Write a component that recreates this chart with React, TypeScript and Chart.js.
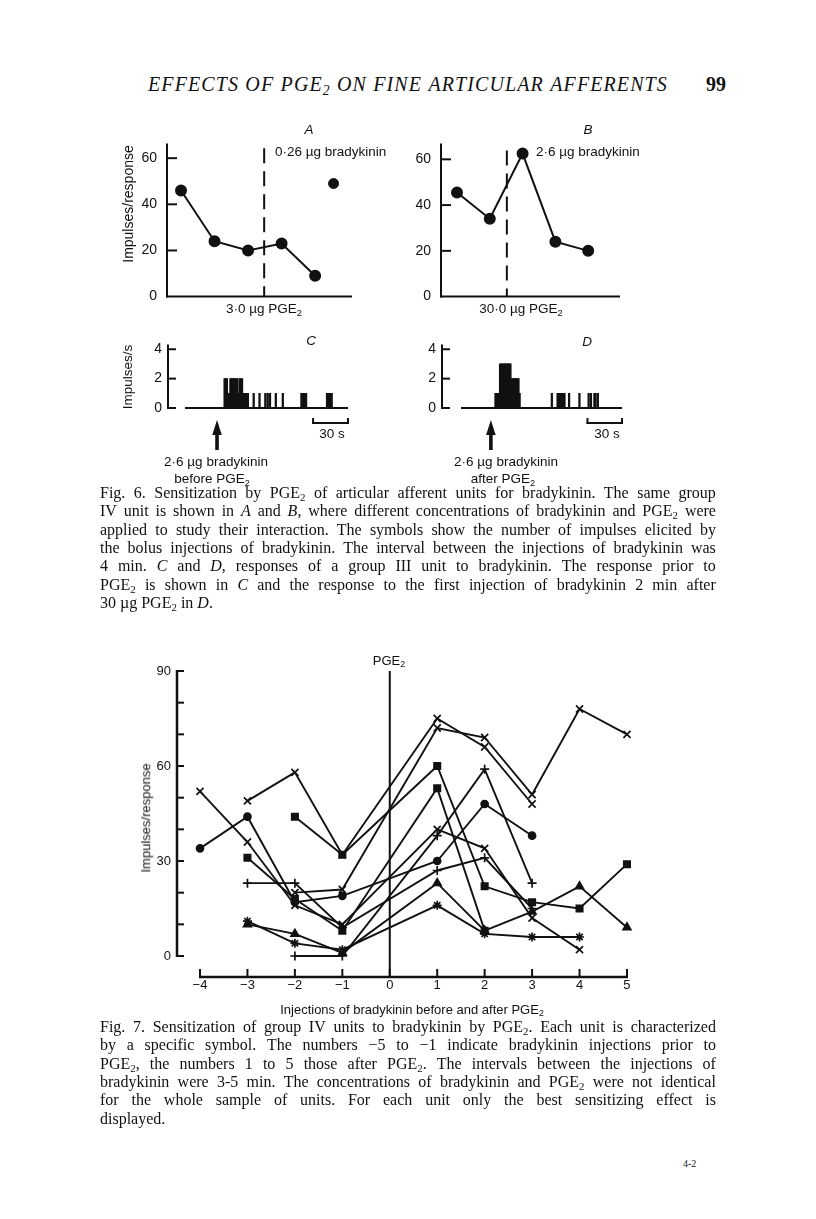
import React, { useEffect, useRef } from "react";
import { Chart, registerables } from "chart.js";

Chart.register(...registerables);

const INK = "#111111";
const SANS = "'Liberation Sans', Arial, Helvetica, sans-serif";
const SERIF = "'Liberation Serif', 'Times New Roman', serif";

// ---------- Fig. 6 A ----------
const panelAInjection = [1, 2, 3, 4, 5];
const panelAImpulses = [46, 24, 20, 23, 9];
const panelALateInjection = [5.55];
const panelALateImpulses = [49];
const panelAPgeAt = 3.48;

// ---------- Fig. 6 B ----------
const panelBInjection = [1, 2, 3, 4, 5];
const panelBImpulses = [45.5, 34, 62.5, 24, 20];
const panelBPgeAt = 2.52;

const panelYTicks = [0, 20, 40, 60];
const panelInnerTicks = [20, 40, 60];

// ---------- Fig. 6 C (1 s bins, impulses/s) ----------
const panelCSeconds = [34, 35, 36, 37, 38, 39, 40, 41, 42, 43, 44, 45, 46, 47, 48, 49, 50, 51, 52, 53, 54, 59, 64, 69, 71, 73, 78, 84, 100, 101, 102, 103, 104, 122, 123, 124, 125, 126];
const panelCRate = [2, 2, 2, 1, 1, 2, 2, 2, 2, 2, 2, 2, 1, 2, 2, 2, 1, 1, 1, 1, 1, 1, 1, 1, 1, 1, 1, 1, 1, 1, 1, 1, 1, 1, 1, 1, 1, 1];
const panelCArrowAt = 27.5;

// ---------- Fig. 6 D ----------
const panelDSeconds = [30, 31, 32, 33, 34, 35, 36, 37, 38, 39, 40, 41, 42, 43, 44, 45, 46, 47, 48, 49, 50, 51, 79, 84, 85, 86, 87, 88, 89, 90, 94, 103, 111, 113, 116, 117, 119];
const panelDRate = [1, 1, 1, 1, 3, 3, 3, 3, 3, 3, 3, 3, 3, 3, 2, 2, 2, 2, 2, 2, 2, 1, 1, 1, 1, 1, 1, 1, 1, 1, 1, 1, 1, 1, 1, 1, 1];
const panelDArrowAt = 26;

const rateTicks = [0, 2, 4];
const scaleBarFrom = 110;
const scaleBarTo = 140;
const traceEnd = 140;

// ---------- Fig. 7 ----------
const injections = [-4, -3, -2, -1, 1, 2, 3, 4, 5];
const unitCircle = [34, 44, 17, 19, 30, 48, 38, null, null];
const unitCrossA = [52, 36, 16, 10, 40, 34, 12, 2, null];
const unitCrossB = [null, 49, 58, 32, 75, 66, 48, null, null];
const unitSquareA = [null, null, 44, 32, 60, 22, 17, 15, 29];
const unitSquareB = [null, 31, 18, 8, 53, 8, null, null, null];
const unitPlusA = [null, 23, 23, 9, 27, 31, 15, null, null];
const unitCrossC = [null, null, 20, 21, 72, 69, 51, 78, 70];
const unitStar = [null, 11, 4, 2, 16, 7, 6, 6, null];
const unitTriangle = [null, 10, 7, 1, 23, 8, 14, 22, 9];
const unitPlusB = [null, null, 0, 0, 38, 59, 23, null, null];
const fig7YLabels = [0, 30, 60, 90];
const fig7XLabels = [-4, -3, -2, -1, 0, 1, 2, 3, 4, 5];

const fig7Units: { values: (number | null)[]; style: string; r: number }[] = [
  { values: unitCircle, style: "circle", r: 3.5 },
  { values: unitCrossA, style: "crossRot", r: 5 },
  { values: unitCrossB, style: "crossRot", r: 5 },
  { values: unitSquareA, style: "rect", r: 4.5 },
  { values: unitSquareB, style: "rect", r: 4.5 },
  { values: unitPlusA, style: "cross", r: 4.5 },
  { values: unitCrossC, style: "crossRot", r: 5 },
  { values: unitStar, style: "star", r: 4.5 },
  { values: unitTriangle, style: "triangle", r: 4.5 },
  { values: unitPlusB, style: "cross", r: 4.5 },
];

// ---------- text ----------
const fig6Caption = [
  "Fig. 6. Sensitization by PGE_2 of articular afferent units for bradykinin. The same group",
  "IV unit is shown in *A* and *B*, where different concentrations of bradykinin and PGE_2 were",
  "applied to study their interaction. The symbols show the number of impulses elicited by",
  "the bolus injections of bradykinin. The interval between the injections of bradykinin was",
  "4 min. *C* and *D*, responses of a group III unit to bradykinin. The response prior to",
  "PGE_2 is shown in *C* and the response to the first injection of bradykinin 2 min after",
  "30 µg PGE_2 in *D*.",
];
const fig7Caption = [
  "Fig. 7. Sensitization of group IV units to bradykinin by PGE_2. Each unit is characterized",
  "by a specific symbol. The numbers −5 to −1 indicate bradykinin injections prior to",
  "PGE_2, the numbers 1 to 5 those after PGE_2. The intervals between the injections of",
  "bradykinin were 3-5 min. The concentrations of bradykinin and PGE_2 were not identical",
  "for the whole sample of units. For each unit only the best sensitizing effect is",
  "displayed.",
];

// ---------- helpers ----------
function seg(ctx: CanvasRenderingContext2D, x1: number, y1: number, x2: number, y2: number, w: number, dash?: number[]) {
  ctx.save();
  ctx.strokeStyle = INK;
  ctx.lineWidth = w;
  ctx.lineCap = "butt";
  if (dash) ctx.setLineDash(dash);
  ctx.beginPath();
  ctx.moveTo(x1, y1);
  ctx.lineTo(x2, y2);
  ctx.stroke();
  ctx.restore();
}

function yScale(min: number, max: number, ticks: number[], width: number, pad: number, size: number) {
  return {
    type: "linear",
    min,
    max,
    grid: { display: false, drawTicks: false },
    border: { display: false },
    ticks: { padding: pad, color: INK, font: { family: SANS, size }, autoSkip: false },
    afterBuildTicks: (s: any) => {
      s.ticks = ticks.map((v) => ({ value: v }));
    },
    afterFit: (s: any) => {
      s.width = width;
    },
  };
}

const baseOptions = {
  responsive: false,
  animation: false,
  events: [],
  plugins: { legend: { display: false }, tooltip: { enabled: false } },
};

function makePanelAB(
  xs: number[],
  ys: number[],
  extraX: number[],
  extraY: number[],
  xMin: number,
  xMax: number,
  yMax: number,
  yWidth: number,
  pad: any,
  pgeAt: number,
  dashTop: number
) {
  const decor = {
    id: "panelDecor",
    beforeDatasetsDraw(chart: any) {
      const { ctx, chartArea: a, scales } = chart;
      const x = scales.x;
      const y = scales.y;
      const y0 = y.getPixelForValue(0);
      seg(ctx, a.left, a.top, a.left, y0 + 1, 2);
      seg(ctx, a.left - 1, y0, a.right, y0, 2);
      panelInnerTicks.forEach((v) => {
        const py = y.getPixelForValue(v);
        seg(ctx, a.left, py, a.left + 10, py, 2);
      });
      const px = x.getPixelForValue(pgeAt);
      seg(ctx, px, y.getPixelForValue(dashTop), px, y0, 2, [15, 8]);
    },
  };
  return {
    type: "scatter",
    data: {
      datasets: [
        {
          data: xs.map((v, i) => ({ x: v, y: ys[i] })),
          showLine: true,
          borderColor: INK,
          backgroundColor: INK,
          borderWidth: 2,
          pointRadius: 5,
          pointStyle: "circle",
        },
        {
          data: extraX.map((v, i) => ({ x: v, y: extraY[i] })),
          showLine: false,
          borderColor: INK,
          backgroundColor: INK,
          pointRadius: 5,
          pointStyle: "circle",
        },
      ],
    },
    options: {
      ...baseOptions,
      layout: { padding: pad },
      scales: {
        x: { type: "linear", display: false, min: xMin, max: xMax },
        y: yScale(0, yMax, panelYTicks, yWidth, 10, 14),
      },
    },
    plugins: [decor],
  };
}

function makePanelCD(seconds: number[], rate: number[], xMin: number, yWidth: number, pad: any, arrowAt: number) {
  const decor = {
    id: "traceDecor",
    beforeDatasetsDraw(chart: any) {
      const { ctx, chartArea: a, scales } = chart;
      const x = scales.x;
      const y = scales.y;
      const y0 = y.getPixelForValue(0);
      seg(ctx, a.left, a.top, a.left, y0 + 1, 2);
      rateTicks.forEach((v) => {
        const py = y.getPixelForValue(v);
        seg(ctx, a.left, py, a.left + 8, py, 2);
      });
      seg(ctx, x.getPixelForValue(0), y0, x.getPixelForValue(traceEnd), y0, 2);
      const yb = y0 + 15;
      const b1 = x.getPixelForValue(scaleBarFrom);
      const b2 = x.getPixelForValue(scaleBarTo);
      seg(ctx, b1 - 1, yb, b2 + 1, yb, 2);
      seg(ctx, b1, yb + 1, b1, yb - 5, 2);
      seg(ctx, b2, yb + 1, b2, yb - 5, 2);
      const ax = x.getPixelForValue(arrowAt);
      const tip = y0 + 12;
      ctx.save();
      ctx.fillStyle = INK;
      ctx.beginPath();
      ctx.moveTo(ax, tip);
      ctx.lineTo(ax - 4.8, tip + 15);
      ctx.lineTo(ax + 4.8, tip + 15);
      ctx.closePath();
      ctx.fill();
      ctx.fillRect(ax - 1.8, tip + 12, 3.6, 30 - 12);
      ctx.restore();
    },
  };
  return {
    type: "bar",
    data: {
      datasets: [
        {
          data: seconds.map((s, i) => ({ x: s, y: rate[i] })),
          backgroundColor: INK,
          borderWidth: 0,
          barThickness: 1.6,
        },
      ],
    },
    options: {
      ...baseOptions,
      layout: { padding: pad },
      scales: {
        x: { type: "linear", display: false, min: xMin, max: traceEnd, offset: false },
        y: yScale(0, 4.33, rateTicks, yWidth, 6, 14),
      },
    },
    plugins: [decor],
  };
}

function makeFig7() {
  const decor = {
    id: "fig7Decor",
    beforeDatasetsDraw(chart: any) {
      const { ctx, chartArea: a, scales } = chart;
      const x = scales.x;
      const y = scales.y;
      const yTop = y.getPixelForValue(90);
      const y0 = y.getPixelForValue(0);
      seg(ctx, a.left, yTop - 1, a.left, y0 + 1, 2.5);
      for (let v = 0; v <= 90; v += 10) {
        const py = y.getPixelForValue(v);
        seg(ctx, a.left, py, a.left + 7, py, 2);
      }
      const xl = x.getPixelForValue(-4);
      const xr = x.getPixelForValue(5);
      seg(ctx, xl - 1, a.bottom, xr + 1, a.bottom, 2.5);
      fig7XLabels.forEach((v) => {
        const px = x.getPixelForValue(v);
        seg(ctx, px, a.bottom, px, a.bottom - 8, 2);
      });
      const p0 = x.getPixelForValue(0);
      seg(ctx, p0, yTop, p0, a.bottom, 2);
    },
  };
  return {
    type: "scatter",
    data: {
      datasets: fig7Units.map((u) => ({
        data: injections
          .map((xv, i) => (u.values[i] == null ? null : { x: xv, y: u.values[i] as number }))
          .filter((p) => p !== null),
        showLine: true,
        borderColor: INK,
        backgroundColor: INK,
        borderWidth: 1.9,
        pointStyle: u.style,
        pointRadius: u.r,
        pointBackgroundColor: INK,
        pointBorderColor: INK,
        pointBorderWidth: 1.7,
      })),
    },
    options: {
      ...baseOptions,
      layout: { padding: { top: 26, right: 15, bottom: 0, left: 0 } },
      scales: {
        x: {
          type: "linear",
          min: -4.485,
          max: 5.38,
          grid: { display: false, drawTicks: false },
          border: { display: false },
          ticks: {
            padding: 1,
            color: INK,
            autoSkip: false,
            maxRotation: 0,
            font: { family: SANS, size: 13 },
            callback: (v: any) => (Number(v) < 0 ? "−" + Math.abs(Number(v)) : String(v)),
          },
          afterBuildTicks: (s: any) => {
            s.ticks = fig7XLabels.map((v) => ({ value: v }));
          },
          afterFit: (s: any) => {
            s.height = 43;
          },
        },
        y: yScale(-6.63, 91.58, fig7YLabels, 77, 6, 13),
      },
    },
    plugins: [decor],
  };
}

function CanvasChart({ left, top, width, height, make }: { left: number; top: number; width: number; height: number; make: () => any }) {
  const ref = useRef<HTMLCanvasElement | null>(null);
  useEffect(() => {
    if (!ref.current) return;
    const chart = new Chart(ref.current, make());
    return () => chart.destroy();
  }, []);
  return <canvas ref={ref} width={width} height={height} style={{ position: "absolute", left, top, width, height }} />;
}

function Sub() {
  return <sub style={{ fontSize: "0.68em", verticalAlign: "baseline", position: "relative", top: "0.28em", lineHeight: 0 }}>2</sub>;
}

function renderWord(w: string, key: number) {
  const parts = w.split(/(\*[^*]+\*|_2)/).filter((p) => p !== "");
  return (
    <span key={key}>
      {parts.map((p, i) =>
        p === "_2" ? (
          <Sub key={i} />
        ) : p.length > 1 && p.startsWith("*") && p.endsWith("*") ? (
          <i key={i}>{p.slice(1, -1)}</i>
        ) : (
          <React.Fragment key={i}>{p}</React.Fragment>
        )
      )}
    </span>
  );
}

function TextLine({ x, y, w, text, size, justify, style }: { x: number; y: number; w: number; text: string; size: number; justify: boolean; style?: any }) {
  const words = text.split(" ");
  return (
    <div
      style={{
        position: "absolute",
        left: x,
        top: y,
        width: w,
        transform: "translateY(-50%)",
        display: "flex",
        justifyContent: justify ? "space-between" : "flex-start",
        columnGap: justify ? 0 : "0.25em",
        fontFamily: SERIF,
        fontSize: size,
        lineHeight: 1.2,
        whiteSpace: "nowrap",
        color: INK,
        ...style,
      }}
    >
      {words.map(renderWord)}
    </div>
  );
}

function Label({ x, y, anchor = "left", size = 13.5, italic, rotate, children }: { x: number; y: number; anchor?: string; size?: number; italic?: boolean; rotate?: number; children: any }) {
  const tx = anchor === "center" ? "-50%" : anchor === "right" ? "-100%" : "0";
  return (
    <div
      style={{
        position: "absolute",
        left: x,
        top: y,
        transform: `translate(${tx},-50%)${rotate ? ` rotate(${rotate}deg)` : ""}`,
        whiteSpace: "nowrap",
        fontFamily: SANS,
        fontSize: size,
        fontStyle: italic ? "italic" : "normal",
        lineHeight: 1.2,
        color: INK,
      }}
    >
      {children}
    </div>
  );
}

export default function App() {
  const fig6Y = [493, 511.3, 529.6, 548, 566.3, 584.6, 603];
  const fig7Y = [1027, 1045.3, 1063.6, 1082, 1100.3, 1118.6];
  return (
    <div style={{ position: "absolute", left: 0, top: 0, width: 816, height: 1219, background: "#fff", overflow: "hidden" }}>
      {/* running head */}
      <TextLine
        x={148}
        y={84}
        w={520}
        size={20}
        justify={true}
        text="EFFECTS OF PGE_2 ON FINE ARTICULAR AFFERENTS"
        style={{ fontStyle: "italic", letterSpacing: "1.1px" }}
      />
      <div style={{ position: "absolute", left: 706, top: 84, transform: "translateY(-50%)", fontFamily: SERIF, fontWeight: 700, fontSize: 20, lineHeight: 1.2, color: INK }}>99</div>

      {/* Fig 6 panels */}
      <CanvasChart
        left={100}
        top={125}
        width={270}
        height={190}
        make={() =>
          makePanelAB(panelAInjection, panelAImpulses, panelALateInjection, panelALateImpulses, 0.582, 6.1, 66.4, 67, { top: 18, right: 18, bottom: 17, left: 0 }, panelAPgeAt, 64.3)
        }
      />
      <CanvasChart
        left={390}
        top={125}
        width={270}
        height={190}
        make={() => makePanelAB(panelBInjection, panelBImpulses, [], [], 0.512, 5.97, 66.96, 51, { top: 18, right: 40, bottom: 18, left: 0 }, panelBPgeAt, 63.9)}
      />
      <CanvasChart left={100} top={330} width={270} height={135} make={() => makePanelCD(panelCSeconds, panelCRate, -14.6, 68, { top: 13, right: 22, bottom: 57, left: 0 }, panelCArrowAt)} />
      <CanvasChart left={390} top={330} width={270} height={135} make={() => makePanelCD(panelDSeconds, panelDRate, -16.5, 52, { top: 13, right: 38, bottom: 57, left: 0 }, panelDArrowAt)} />

      <Label x={309} y={130} anchor="center" italic>A</Label>
      <Label x={275} y={152}>0·26 µg bradykinin</Label>
      <Label x={264} y={309} anchor="center">3·0 µg PGE<Sub /></Label>
      <Label x={128} y={204} anchor="center" size={14} rotate={-90}>Impulses/response</Label>

      <Label x={588} y={130} anchor="center" italic>B</Label>
      <Label x={536} y={152}>2·6 µg bradykinin</Label>
      <Label x={521} y={309} anchor="center">30·0 µg PGE<Sub /></Label>

      <Label x={311} y={341} anchor="center" italic>C</Label>
      <Label x={128} y={377} anchor="center" size={13.5} rotate={-90}>Impulses/s</Label>
      <Label x={332} y={434} anchor="center">30 s</Label>
      <Label x={216} y={462} anchor="center">2·6 µg bradykinin</Label>
      <Label x={212} y={479} anchor="center">before PGE<Sub /></Label>

      <Label x={587} y={342} anchor="center" italic>D</Label>
      <Label x={607} y={434} anchor="center">30 s</Label>
      <Label x={506} y={462} anchor="center">2·6 µg bradykinin</Label>
      <Label x={503} y={479} anchor="center">after PGE<Sub /></Label>

      {fig6Caption.map((t, i) => (
        <TextLine key={"c6" + i} x={100} y={fig6Y[i]} w={616} size={16} justify={i < fig6Caption.length - 1} text={t} />
      ))}

      {/* Fig 7 */}
      <CanvasChart left={100} top={640} width={560} height={380} make={makeFig7} />
      <Label x={389} y={661} anchor="center" size={13}>PGE<Sub /></Label>
      <Label x={146} y={818} anchor="center" size={13} rotate={-90}>Impulses/response</Label>
      <Label x={412} y={1010} anchor="center" size={13}>Injections of bradykinin before and after PGE<Sub /></Label>

      {fig7Caption.map((t, i) => (
        <TextLine key={"c7" + i} x={100} y={fig7Y[i]} w={616} size={16} justify={i < fig7Caption.length - 1} text={t} />
      ))}

      <div style={{ position: "absolute", left: 683, top: 1163, transform: "translateY(-50%)", fontFamily: SERIF, fontSize: 10, color: INK }}>4-2</div>
    </div>
  );
}
